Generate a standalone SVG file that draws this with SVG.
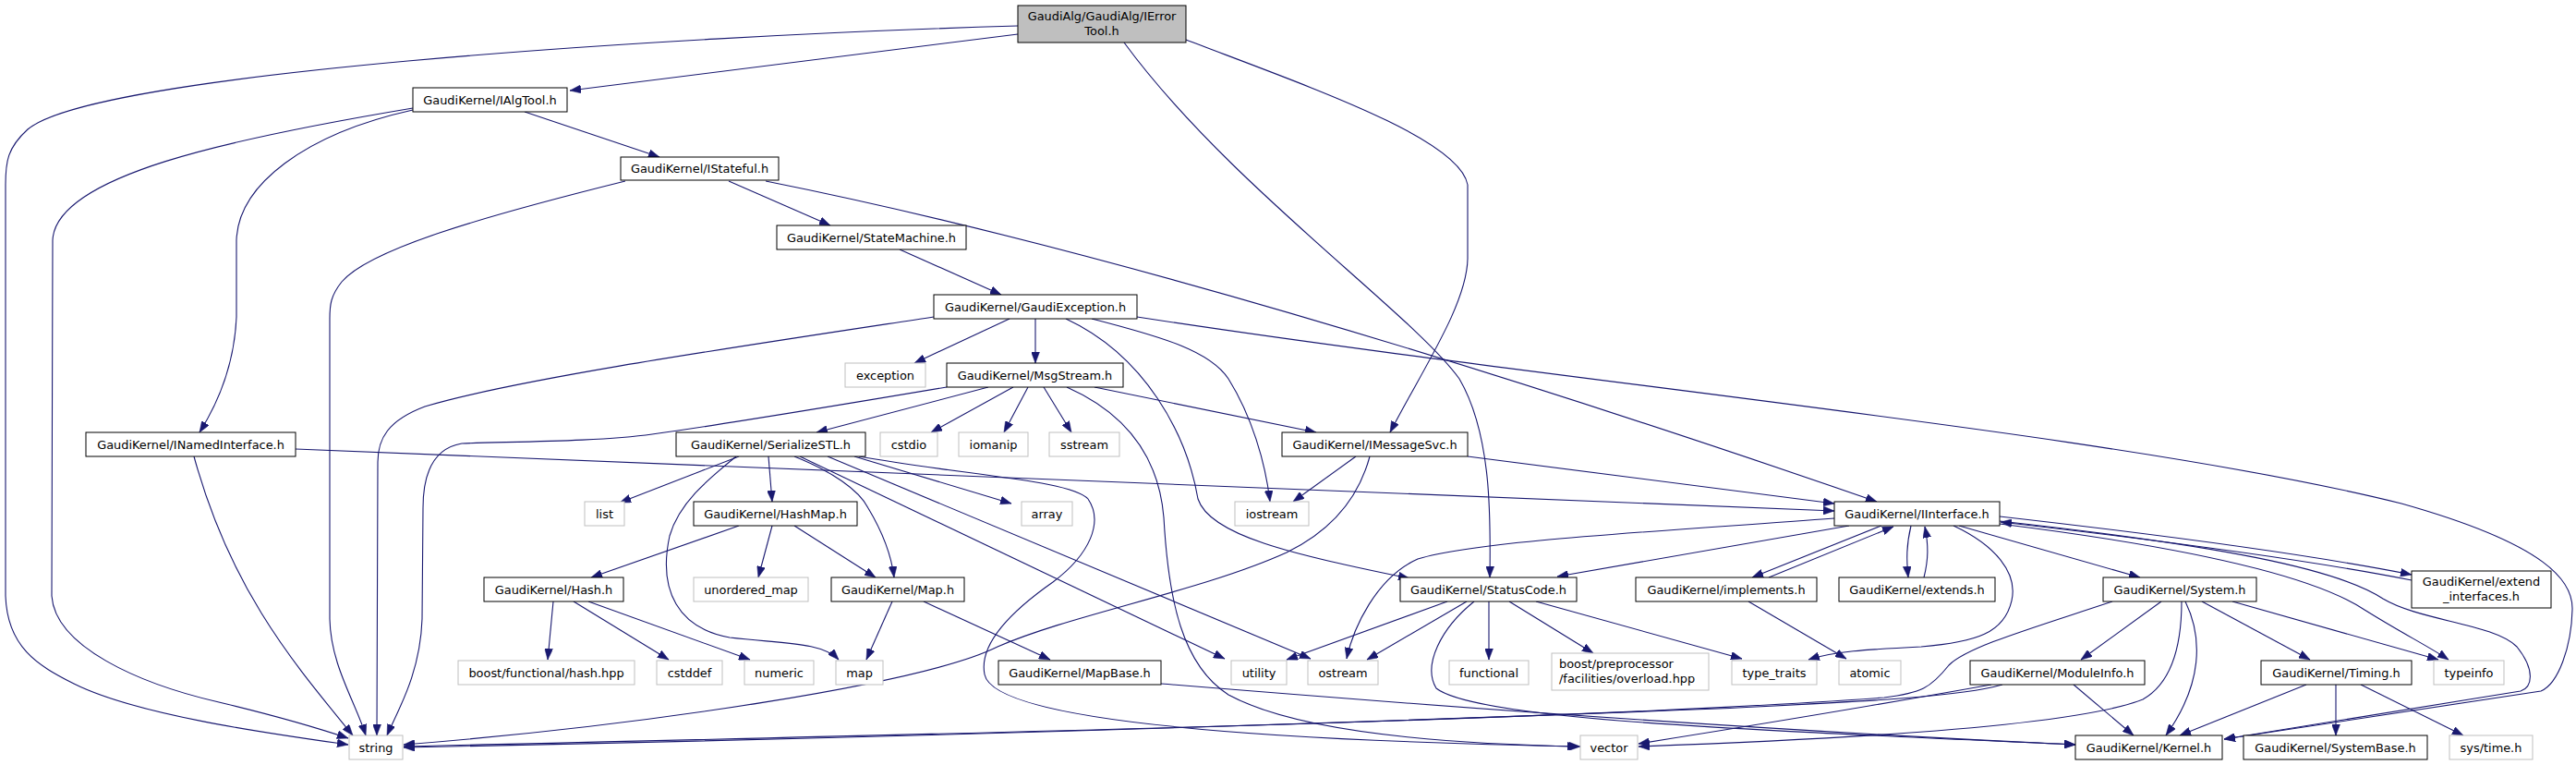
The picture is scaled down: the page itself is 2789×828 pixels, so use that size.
<svg xmlns="http://www.w3.org/2000/svg" width="2789" height="828" viewBox="0 0 2789 828">
<style>
rect{fill:#fff;stroke:#000;stroke-width:1}
.x rect{stroke:#bfbfbf}
.top rect{fill:#bfbfbf;stroke:#000}
text{font-family:"DejaVu Sans","Liberation Sans",sans-serif;font-size:12.9px;text-anchor:middle;fill:#000}
.l text{text-anchor:start}
#edges path{fill:none;stroke:#191970;stroke-width:1.1;marker-end:url(#a)}
</style>
<defs>
<marker id="a" viewBox="0 0 12 9" refX="12" refY="4.5" markerWidth="12" markerHeight="9" markerUnits="userSpaceOnUse" orient="auto"><path d="M0,0 L12,4.5 L0,9 z" fill="#191970" stroke="#191970" stroke-width="0.5"/></marker>
</defs>
<rect x="0" y="0" width="2789" height="828" style="fill:#fff;stroke:none"/>
<g id="edges">
<path d="M1102,37 L617,98"/>
<path d="M1102,28 C700,40 100,80 30,140 C8,160 6,175 6,200 L6,645 C8,700 40,720 80,740 C150,775 300,795 377,806"/>
<path d="M1217,46 C1330,200 1530,340 1580,410 C1615,470 1614,560 1613,625"/>
<path d="M1284,43 C1420,95 1580,150 1589,200 L1589,280 C1588,330 1540,400 1505,468"/>
<path d="M568,121 L714,170"/>
<path d="M447,117 C250,150 60,190 57,260 L56,645 C60,700 150,740 237,760 C300,775 350,790 377,799"/>
<path d="M447,119 C330,145 258,200 256,260 L256,343 C254,390 240,430 216,468"/>
<path d="M677,196 C520,235 400,270 370,305 C358,320 357,330 357,345 L357,670 C358,720 385,760 396,796"/>
<path d="M789,196 L899,244"/>
<path d="M829,196 Q1300,290 2032,543"/>
<path d="M974,270 L1084,319"/>
<path d="M1011,343 C800,375 560,410 460,440 C420,455 409,475 409,500 L408,796"/>
<path d="M1093,345 L990,393"/>
<path d="M1121,345 L1121,393"/>
<path d="M1154,345 C1240,385 1285,470 1297,540 C1310,580 1400,600 1526,626"/>
<path d="M1182,345 C1260,365 1310,380 1330,410 C1355,450 1370,500 1375,543"/>
<path d="M1231,343 C1700,415 2300,470 2600,545 C2760,590 2786,630 2785,660 C2784,700 2770,740 2751,748 L2408,800"/>
<path d="M1025,419 C900,440 780,460 706,470 C650,478 550,478 500,480 C470,485 458,510 458,550 L457,670 C455,730 430,770 419,796"/>
<path d="M1070,419 L884,468"/>
<path d="M1097,419 L1008,468"/>
<path d="M1113,419 L1087,468"/>
<path d="M1130,419 L1160,468"/>
<path d="M1155,419 C1225,450 1255,500 1260,560 C1265,650 1280,720 1330,752 C1400,790 1550,805 1711,808"/>
<path d="M1185,419 L1425,468"/>
<path d="M320,486 L1986,553"/>
<path d="M210,494 C250,640 320,720 382,796"/>
<path d="M800,494 L671,544"/>
<path d="M832,494 L836,543"/>
<path d="M797,494 C765,520 735,545 725,580 C712,640 735,680 790,690 C850,697 890,695 908,714"/>
<path d="M860,494 C900,510 930,530 940,550 C955,575 965,600 968,625"/>
<path d="M866,494 L1326,713"/>
<path d="M896,494 L1419,713"/>
<path d="M925,494 L1095,545"/>
<path d="M930,494 C1050,515 1160,520 1178,540 C1195,565 1180,600 1140,630 C1090,665 1060,700 1066,730 C1075,775 1300,800 1709,808"/>
<path d="M1589,494 L1986,545"/>
<path d="M1468,494 L1400,543"/>
<path d="M1483,494 C1468,550 1430,580 1393,598 C1300,640 1160,665 1080,700 C1000,740 700,785 437,806"/>
<path d="M1986,561 C1800,575 1600,585 1535,605 C1490,625 1465,680 1458,713"/>
<path d="M2002,569 L1686,624"/>
<path d="M2037,569 L1897,625"/>
<path d="M1915,625 L2050,570"/>
<path d="M2069,569 C2064,590 2064,605 2066,625"/>
<path d="M2083,625 C2088,605 2088,590 2084,570"/>
<path d="M2115,569 C2160,590 2185,620 2178,650 C2170,685 2140,695 2080,700 C2020,703 1985,705 1958,714"/>
<path d="M2121,569 L2317,625"/>
<path d="M2165,559 C2350,580 2500,600 2611,622"/>
<path d="M2611,628 C2500,606 2350,586 2166,565"/>
<path d="M2165,567 C2350,590 2500,620 2560,660 C2600,685 2630,700 2651,714"/>
<path d="M2165,564 C2400,590 2530,615 2580,648 C2620,672 2700,675 2725,700 C2745,725 2742,744 2729,748 L2408,800"/>
<path d="M1567,651 L1393,714"/>
<path d="M1588,651 L1480,714"/>
<path d="M1596,651 C1560,680 1540,720 1555,745 C1600,780 1900,790 2247,806"/>
<path d="M1257,740 C1500,760 1900,790 2247,806"/>
<path d="M1612,651 L1612,714"/>
<path d="M1634,651 L1725,707"/>
<path d="M1663,651 L1886,713"/>
<path d="M800,569 L640,625"/>
<path d="M836,569 L821,625"/>
<path d="M860,569 L948,625"/>
<path d="M599,651 L593,714"/>
<path d="M621,651 L724,714"/>
<path d="M637,651 L812,714"/>
<path d="M966,651 L938,714"/>
<path d="M1000,651 L1137,714"/>
<path d="M1893,651 L1999,713"/>
<path d="M2287,651 C2200,680 2130,700 2110,720 C2090,745 2080,750 2040,755 C1700,780 1000,795 437,808"/>
<path d="M2168,741 C2120,755 2000,760 1860,767 C1400,785 900,800 437,809"/>
<path d="M2156,741 C2050,760 1900,785 1774,805"/>
<path d="M2362,651 C2362,700 2350,740 2320,757 C2250,785 2000,800 1774,808"/>
<path d="M2340,651 L2253,714"/>
<path d="M2366,651 C2385,690 2385,740 2345,796"/>
<path d="M2384,651 L2501,714"/>
<path d="M2417,651 L2640,714"/>
<path d="M2245,741 L2310,796"/>
<path d="M2497,741 L2360,796"/>
<path d="M2529,741 L2529,796"/>
<path d="M2556,741 L2667,796"/>
</g>
<g id="n_top" class="top"><rect x="1102" y="6" width="182" height="40"/><text x="1193" y="22">GaudiAlg/GaudiAlg/IError</text><text x="1193" y="38">Tool.h</text></g>
<g id="n_ialgtool"><rect x="447" y="95" width="167" height="26"/><text x="530.5" y="112.5">GaudiKernel/IAlgTool.h</text></g>
<g id="n_istateful"><rect x="672" y="170" width="171" height="25"/><text x="757.5" y="187">GaudiKernel/IStateful.h</text></g>
<g id="n_statemachine"><rect x="841" y="244" width="205" height="26"/><text x="943.5" y="261.5">GaudiKernel/StateMachine.h</text></g>
<g id="n_gaudiexception"><rect x="1011" y="319" width="220" height="26"/><text x="1121" y="336.5">GaudiKernel/GaudiException.h</text></g>
<g id="n_exception" class="x"><rect x="915" y="393" width="87" height="26"/><text x="958.5" y="410.5">exception</text></g>
<g id="n_msgstream"><rect x="1025" y="393" width="191" height="26"/><text x="1120.5" y="410.5">GaudiKernel/MsgStream.h</text></g>
<g id="n_inamedinterface"><rect x="93" y="468" width="227" height="26"/><text x="206.5" y="485.5">GaudiKernel/INamedInterface.h</text></g>
<g id="n_serializestl"><rect x="732" y="468" width="205" height="26"/><text x="834.5" y="485.5">GaudiKernel/SerializeSTL.h</text></g>
<g id="n_cstdio" class="x"><rect x="953" y="468" width="62" height="26"/><text x="984" y="485.5">cstdio</text></g>
<g id="n_iomanip" class="x"><rect x="1038" y="468" width="75" height="26"/><text x="1075.5" y="485.5">iomanip</text></g>
<g id="n_sstream" class="x"><rect x="1136" y="468" width="76" height="26"/><text x="1174" y="485.5">sstream</text></g>
<g id="n_imessagesvc"><rect x="1388" y="468" width="201" height="26"/><text x="1488.5" y="485.5">GaudiKernel/IMessageSvc.h</text></g>
<g id="n_list" class="x"><rect x="633" y="543" width="43" height="26"/><text x="654.5" y="560.5">list</text></g>
<g id="n_hashmap"><rect x="751" y="543" width="177" height="26"/><text x="839.5" y="560.5">GaudiKernel/HashMap.h</text></g>
<g id="n_array" class="x"><rect x="1106" y="543" width="55" height="26"/><text x="1133.5" y="560.5">array</text></g>
<g id="n_iostream" class="x"><rect x="1337" y="543" width="80" height="26"/><text x="1377" y="560.5">iostream</text></g>
<g id="n_iinterface"><rect x="1986" y="543" width="179" height="26"/><text x="2075.5" y="560.5">GaudiKernel/IInterface.h</text></g>
<g id="n_hash"><rect x="524" y="625" width="151" height="26"/><text x="599.5" y="642.5">GaudiKernel/Hash.h</text></g>
<g id="n_unordered_map" class="x"><rect x="751" y="625" width="124" height="26"/><text x="813" y="642.5">unordered_map</text></g>
<g id="n_map_h"><rect x="900" y="625" width="144" height="26"/><text x="972" y="642.5">GaudiKernel/Map.h</text></g>
<g id="n_statuscode"><rect x="1516" y="625" width="191" height="26"/><text x="1611.5" y="642.5">GaudiKernel/StatusCode.h</text></g>
<g id="n_implements"><rect x="1771" y="625" width="196" height="26"/><text x="1869" y="642.5">GaudiKernel/implements.h</text></g>
<g id="n_extends"><rect x="1991" y="625" width="169" height="26"/><text x="2075.5" y="642.5">GaudiKernel/extends.h</text></g>
<g id="n_system"><rect x="2277" y="625" width="166" height="26"/><text x="2360" y="642.5">GaudiKernel/System.h</text></g>
<g id="n_extend_interfaces"><rect x="2611" y="618" width="151" height="40"/><text x="2686.5" y="634">GaudiKernel/extend</text><text x="2686.5" y="650">_interfaces.h</text></g>
<g id="n_boost_hash" class="x"><rect x="496" y="715" width="191" height="26"/><text x="591.5" y="732.5">boost/functional/hash.hpp</text></g>
<g id="n_cstddef" class="x"><rect x="711" y="715" width="71" height="26"/><text x="746.5" y="732.5">cstddef</text></g>
<g id="n_numeric" class="x"><rect x="806" y="715" width="75" height="26"/><text x="843.5" y="732.5">numeric</text></g>
<g id="n_map" class="x"><rect x="905" y="715" width="51" height="26"/><text x="930.5" y="732.5">map</text></g>
<g id="n_mapbase"><rect x="1081" y="715" width="176" height="26"/><text x="1169" y="732.5">GaudiKernel/MapBase.h</text></g>
<g id="n_utility" class="x"><rect x="1333" y="715" width="60" height="26"/><text x="1363" y="732.5">utility</text></g>
<g id="n_ostream" class="x"><rect x="1416" y="715" width="76" height="26"/><text x="1454" y="732.5">ostream</text></g>
<g id="n_functional" class="x"><rect x="1569" y="715" width="86" height="26"/><text x="1612" y="732.5">functional</text></g>
<g id="n_boost_pp" class="x l"><rect x="1680" y="707" width="170" height="40"/><text x="1688" y="723">boost/preprocessor</text><text x="1688" y="739">/facilities/overload.hpp</text></g>
<g id="n_type_traits" class="x"><rect x="1875" y="715" width="92" height="26"/><text x="1921" y="732.5">type_traits</text></g>
<g id="n_atomic" class="x"><rect x="1991" y="715" width="67" height="26"/><text x="2024.5" y="732.5">atomic</text></g>
<g id="n_moduleinfo"><rect x="2133" y="715" width="189" height="26"/><text x="2227.5" y="732.5">GaudiKernel/ModuleInfo.h</text></g>
<g id="n_timing"><rect x="2448" y="715" width="163" height="26"/><text x="2529.5" y="732.5">GaudiKernel/Timing.h</text></g>
<g id="n_typeinfo" class="x"><rect x="2635" y="715" width="76" height="26"/><text x="2673" y="732.5">typeinfo</text></g>
<g id="n_string" class="x"><rect x="378" y="796" width="58" height="26"/><text x="407" y="813.5">string</text></g>
<g id="n_vector" class="x"><rect x="1711" y="796" width="62" height="26"/><text x="1742" y="813.5">vector</text></g>
<g id="n_kernel"><rect x="2247" y="796" width="159" height="26"/><text x="2326.5" y="813.5">GaudiKernel/Kernel.h</text></g>
<g id="n_systembase"><rect x="2429" y="796" width="199" height="26"/><text x="2528.5" y="813.5">GaudiKernel/SystemBase.h</text></g>
<g id="n_systime" class="x"><rect x="2652" y="796" width="90" height="26"/><text x="2697" y="813.5">sys/time.h</text></g>
</svg>
